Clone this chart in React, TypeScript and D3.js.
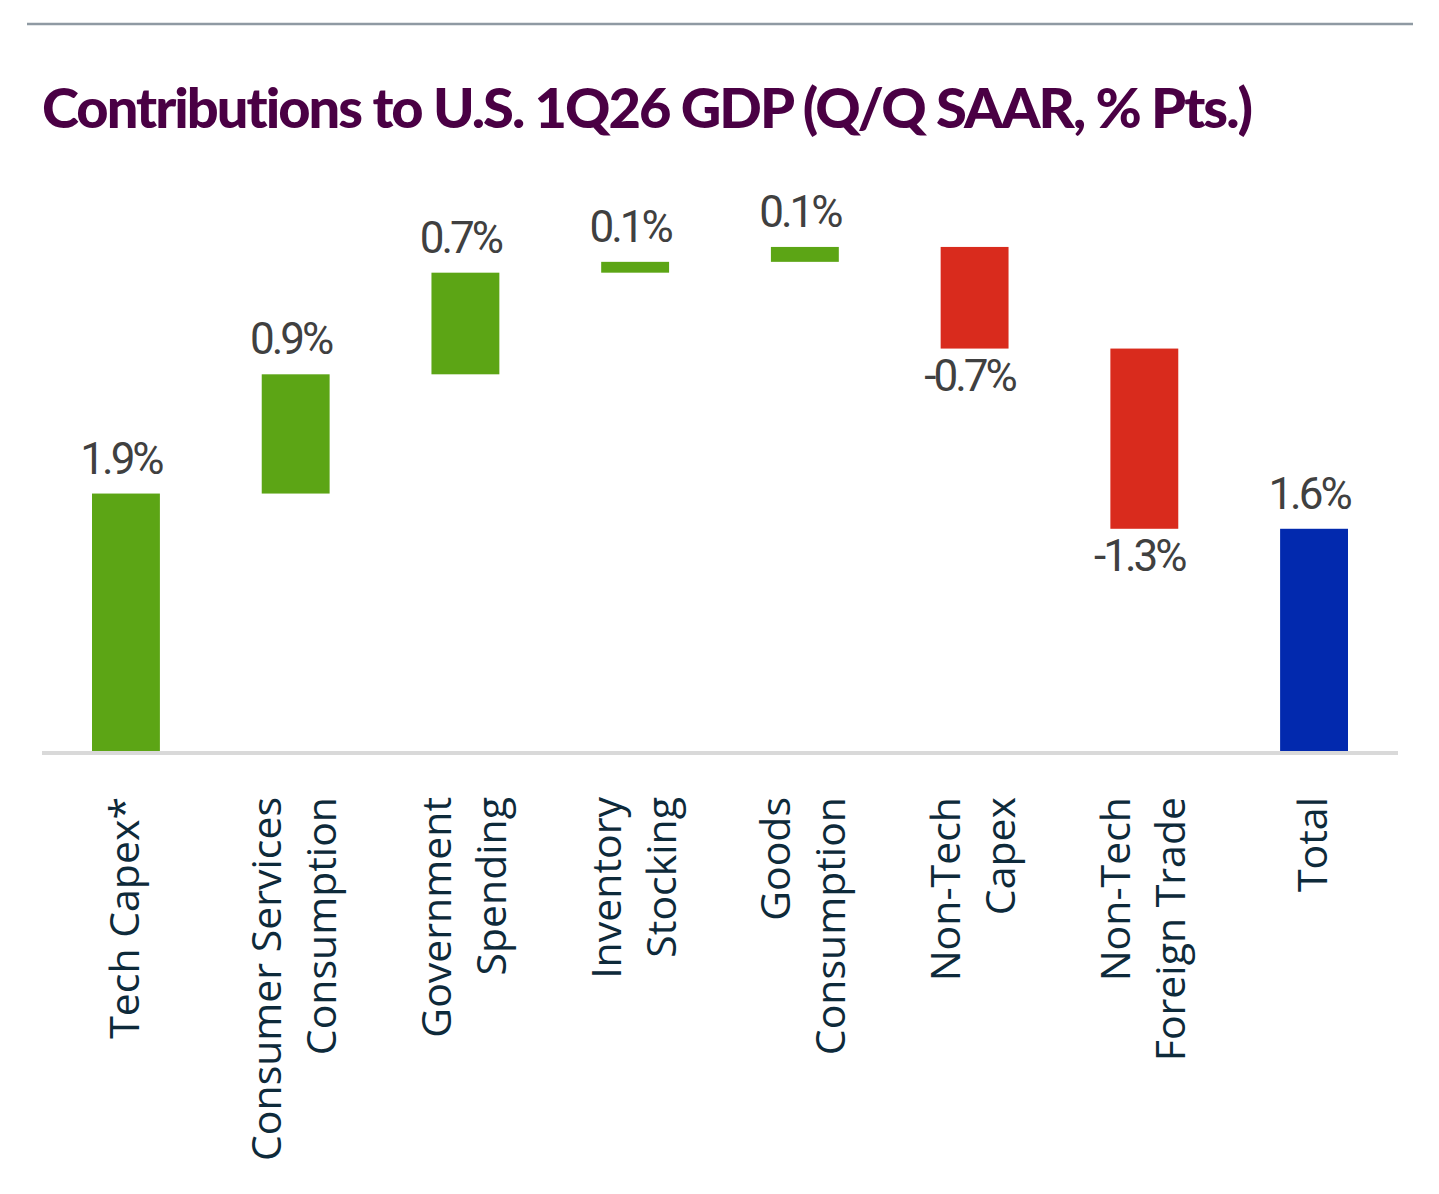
import React from 'react'
import * as d3 from 'd3'

// components of the waterfall (pp contributions)
const categories = [
  ['Tech Capex*'],
  ['Consumer Services', 'Consumption'],
  ['Government', 'Spending'],
  ['Inventory', 'Stocking'],
  ['Goods', 'Consumption'],
  ['Non-Tech', 'Capex'],
  ['Non-Tech', 'Foreign Trade'],
  ['Total'],
]
const contributions = [1.9, 0.88, 0.75, 0.08, 0.11, -0.75, -1.33]
const valueLabels = ['1.9%', '0.9%', '0.7%', '0.1%', '0.1%', '-0.7%', '-1.3%', '1.6%']

const W = 1439
const H = 1194

function App() {
  const x = d3
    .scaleBand<number>()
    .domain(d3.range(categories.length))
    .range([92, 1348])
    .paddingInner(0.6)
    .paddingOuter(0)

  const y = d3.scaleLinear().domain([0, 4]).range([751, 751 - 4 * 135.5])

  // running totals for the floating bars
  let cum = 0
  const bars = contributions.map((v, i) => {
    const start = cum
    cum += v
    return {i, y0: start, y1: cum, kind: v >= 0 ? 'up' : 'down'}
  })
  bars.push({i: contributions.length, y0: 0, y1: cum, kind: 'total'})

  const fill: any = {up: '#5ca515', down: '#d92b1d', total: '#0229ae'}

  return (
    <svg width={W} height={H} style={{position: 'absolute', left: 0, top: 0, background: '#fff'}}>
      <line x1={27} x2={1413} y1={24} y2={24} stroke="#8f9aa3" strokeWidth={2.5} />
      <text
        x={42}
        y={128}
        fill="#4a0044"
        fontFamily="Lato, sans-serif"
        fontWeight={900}
        fontSize={56}
        letterSpacing={-3}
        textLength={1208}
        lengthAdjust="spacing"
      >
        Contributions to U.S. 1Q26 GDP (Q/Q SAAR, % Pts.)
      </text>

      {bars.map((b) => {
        const top = y(Math.max(b.y0, b.y1))
        const bot = y(Math.min(b.y0, b.y1))
        const cx = (x(b.i) as number) + x.bandwidth() / 2
        const neg = b.kind === 'down'
        return (
          <g key={b.i}>
            <rect x={x(b.i)} y={top} width={x.bandwidth()} height={bot - top} fill={fill[b.kind]} />
            <text
              x={cx - 5}
              y={neg ? bot + 42 : top - 20}
              textAnchor="middle"
              fill="#404040"
              fontFamily="Roboto, sans-serif"
              fontSize={44}
              letterSpacing={-3}
            >
              {valueLabels[b.i]}
            </text>
          </g>
        )
      })}

      <line x1={42} x2={1398} y1={753} y2={753} stroke="#d9d9d9" strokeWidth={4} />

      {categories.map((lines, i) => {
        const cx = (x(i) as number) + x.bandwidth() / 2
        return (
          <g key={i} transform={`translate(${cx},797) rotate(-90)`}>
            {lines.map((t, j) => (
              <text
                key={j}
                x={0}
                y={lines.length === 1 ? 13 : 13 + (j - 0.5) * 55}
                textAnchor="end"
                fill="#0e2a3a"
                fontFamily="'Open Sans', sans-serif"
                fontSize={41}
              >
                {t}
              </text>
            ))}
          </g>
        )
      })}
    </svg>
  )
}

export default App
